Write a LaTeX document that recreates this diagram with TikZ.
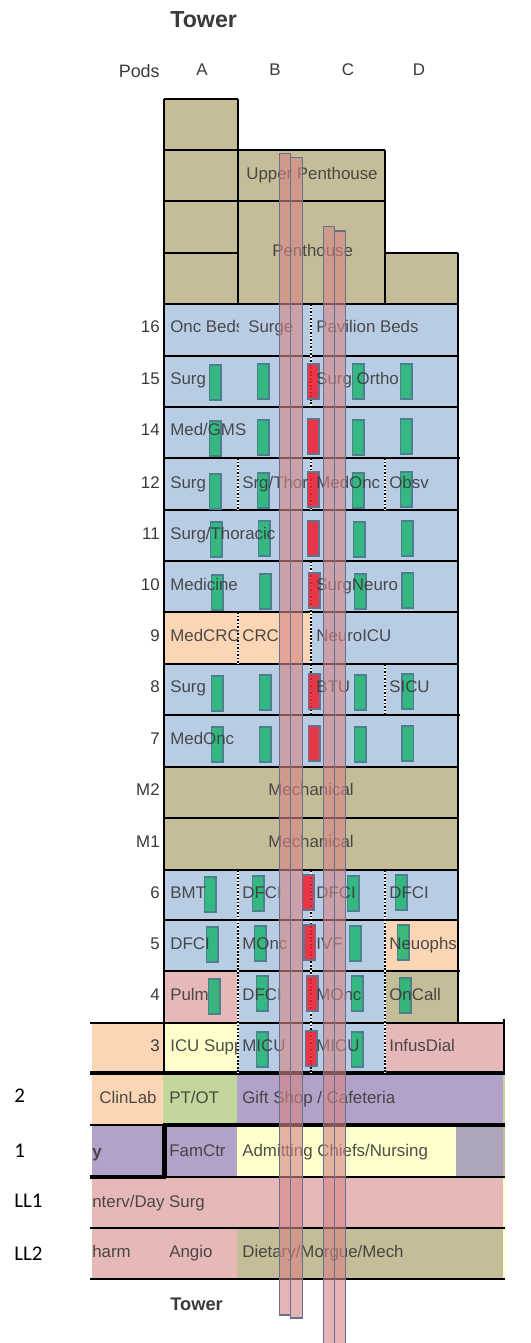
\documentclass[tikz,border=0pt]{standalone}
\usepackage{fontspec}
\setmainfont{Liberation Sans}
\newfontfamily\floorfont{Carlito}
\definecolor{plantan}{HTML}{C4BD97}
\definecolor{bedblue}{HTML}{B8CCE4}
\definecolor{peach}{HTML}{FCD5B5}
\definecolor{rose}{HTML}{E6B9B8}
\definecolor{paleyellow}{HTML}{FFFFCC}
\definecolor{lilac}{HTML}{B2A2C7}
\definecolor{sage}{HTML}{C3D69B}
\definecolor{greyviolet}{HTML}{AFA5BA}
\definecolor{labelgrey}{HTML}{3A3A3A}
\definecolor{shaftfill}{HTML}{D68686}
\definecolor{shaftline}{HTML}{66708F}
\definecolor{stackline}{HTML}{4A8090}
\definecolor{stairgreen}{HTML}{22B573}
\definecolor{stairred}{HTML}{EE2233}
\tikzset{
	lbl/.style={anchor=base west,inner sep=0pt,text=labelgrey,text opacity=0.9,font=\fontsize{9.6}{11}\selectfont},
	flr/.style={anchor=base east,inner sep=0pt,text=labelgrey,font=\fontsize{9.6}{11}\selectfont},
	pod/.style={anchor=base,inner sep=0pt,text=labelgrey,font=\fontsize{9.6}{11}\selectfont},
	lvl/.style={anchor=base west,inner sep=0pt,font=\floorfont\fontsize{11.9}{13}\selectfont},
	wall/.style={draw=black,line width=1.2pt},
	thin wall/.style={draw=black,line width=0.9pt},
	heavy wall/.style={draw=black,line width=2.6pt},
	divider/.style={draw=black,line width=0.9pt,dash pattern=on 1pt off 1pt,preaction={draw=white,solid,line width=0.9pt}},
	shaft/.style={draw=shaftline,line width=0.6pt,fill=shaftfill,fill opacity=0.62},
	greenstack/.style={draw=stackline,line width=0.6pt,fill=stairgreen,fill opacity=0.88},
	redstack/.style={draw=shaftline,line width=0.6pt,fill=stairred,fill opacity=0.88}
}
\begin{document}
\begin{tikzpicture}[x=0.02cm,y=-0.02cm]
	\useasboundingbox (0,0) rectangle (531,1343);

	% Roof blocks
	\fill[plantan] (164,99) rectangle (238,304);
	\fill[plantan] (238,150) rectangle (385,304);
	\fill[plantan] (385,253) rectangle (458,304);

	% Floors
	\fill[bedblue] (164,304) rectangle (458,767);
	\fill[peach] (164,612) rectangle (311,664);
	\fill[plantan] (164,767) rectangle (458,870);
	\fill[bedblue] (164,870) rectangle (458,1023);
	\fill[peach] (385,920) rectangle (458,971);
	\fill[rose] (164,971) rectangle (238,1023);
	\fill[plantan] (385,971) rectangle (458,1023);

	% Podium floors
	\fill[peach] (92,1023) rectangle (164,1073);
	\fill[paleyellow] (164,1023) rectangle (238,1073);
	\fill[bedblue] (238,1023) rectangle (385,1073);
	\fill[rose] (385,1023) rectangle (503,1073);
	\fill[peach] (92,1073) rectangle (163,1125);
	\fill[sage] (163,1073) rectangle (237,1125);
	\fill[lilac] (237,1073) rectangle (503,1125);
	\fill[sage] (503,1073) rectangle (504.5,1125);
	\fill[lilac] (92,1125) rectangle (237,1177);
	\fill[paleyellow] (237,1125) rectangle (456,1177);
	\fill[greyviolet] (456,1125) rectangle (503,1177);
	\fill[plantan] (503,1125) rectangle (504.5,1177);
	\fill[rose] (92,1177) rectangle (503,1228);
	\fill[rose] (92,1228) rectangle (237,1279);
	\fill[plantan] (237,1228) rectangle (503,1279);
	\fill[paleyellow] (503,1177) rectangle (504.5,1279);

	% Walls
	\foreach \ya/\xa/\xb in {99/164/238,150/164/385,253/164/238,253/385/458,304/164/458,356/164/458,407/164/458,458/164/460,510/164/458,561/164/458,612/164/458,664/164/458,715/164/460,767/164/458,818/164/458,870/164/458,920/164/458,971/164/460}
		\draw[wall] (\xa,\ya) -- (\xb,\ya);
	\draw[thin wall] (164,201) -- (385,201);
	\draw[wall] (164,99) -- (164,1073);
	\draw[wall] (458,253) -- (458,1023);
	\draw[wall] (238,99) -- (238,304);
	\draw[wall] (385,150) -- (385,304);
	\draw[wall] (90,1023) -- (504,1023);
	\draw[wall] (504,1019) -- (504,1075);
	\draw[heavy wall] (90,1073) -- (504.5,1073);
	\draw[thin wall] (90,1125) -- (164,1125);
	\draw[heavy wall] (163,1125) -- (504.5,1125);
	\draw[heavy wall] (164.5,1125) -- (164.5,1178);
	\draw[heavy wall] (90,1177) -- (166,1177);
	\draw[wall] (166,1177) -- (504.5,1177);
	\draw[wall] (90,1228) -- (504.5,1228);
	\draw[wall] (90,1279) -- (504.5,1279);

	% Dividers
	\foreach \ya/\yb in {304/407,458/510,561/664,664/715,870/1073}
		\draw[divider] (311,\ya) -- (311,\yb);
	\foreach \ya/\yb in {458/510,612/664,870/1073}
		\draw[divider] (238,\ya) -- (238,\yb);
	\foreach \ya/\yb in {458/510,664/715,870/1073}
		\draw[divider] (385,\ya) -- (385,\yb);

	% Green stacks
	\foreach \xa/\ya in {209.5/365,257.5/364,352.5/364,400.5/364,
		209.5/421,257.5/420,352.5/420,400.5/419,
		209.5/474,257.5/473,352.5/473,400.5/472,
		210.5/522,258.5/521,353.5/522,401.5/521,
		211.5/575,259.5/574,354.5/574,402/573,
		211.5/676,259.5/675,354.5/675,402/674,
		211.5/727,259.5/727,354.5/727,402/726,
		204.5/877,252.5/876,347.5/876,395.5/875,
		206.5/927,254.5/926,349.5/926,397.5/925,
		208.5/979,256.5/976,351.5/976,399.5/978,
		256.5/1032,351.5/1032}
		\draw[greenstack] (\xa,\ya) rectangle ++(11.5,35);

	% Red stacks
	\foreach \xa/\ya in {307.5/364,307.5/419,307.5/472,307.5/521,308.5/573,308.5/674,308.5/726,302.5/875,304/925,306.5/976,305.5/1031}
		\draw[redstack] (\xa,\ya) rectangle ++(11.5,35);

	% Headings
	\node[anchor=base west,inner sep=0pt,text=labelgrey,font=\bfseries\fontsize{13.2}{15}\selectfont] (towertop) at (170,27) {Tower};
	\node[anchor=base west,inner sep=0pt,text=labelgrey,font=\bfseries\fontsize{10.4}{12}\selectfont] (towerbottom) at (170,1310) {Tower};
	\node[flr,font=\fontsize{10.2}{12}\selectfont] (pods) at (160,77) {Pods};
	\foreach \x/\pname in {202/A,275/B,348/C,419/D}
		\node[pod] (pod\pname) at (\x,75) {\pname};

	% Floor numbers
	\foreach \y/\fname in {332/16,384/15,435/14,488/12,539/11,590/10,641/9,692/8,744/7,795/M2,847/M1,898/6,949/5,1000/4,1051/3}
		\node[flr] (floor\fname) at (160,\y) {\fname};
	\node[lvl] (lvltwo) at (14,1102) {2};
	\node[lvl] (lvlone) at (14,1157) {1};
	\node[lvl] (lvlLLone) at (14,1207) {LL1};
	\node[lvl] (lvlLLtwo) at (14,1260) {LL2};

	% Clipped names
	\begin{scope}
		\clip (164,304) rectangle (238,356);
		\node[lbl] (oncbeds) at (170,332) {Onc Beds};
	\end{scope}
	\begin{scope}
		\clip (164,612) rectangle (238,664);
		\node[lbl] (medcrc) at (170,641) {MedCRC};
	\end{scope}
	\begin{scope}
		\clip (164,1023) rectangle (238,1073);
		\node[lbl] (icusupp) at (170,1051) {ICU Supp};
	\end{scope}

	% Department names
	\node[lbl] (upperpent) at (246,179) {Upper Penthouse};
	\node[lbl] (pent) at (272,256) {Penthouse};
	\node[lbl] (surge) at (248,332) {Surge};
	\node[lbl] (pavilion) at (316,332) {Pavilion Beds};
	\node[lbl] (surgA) at (170,384) {Surg};
	\node[lbl] (surgortho) at (316,384) {Surg Ortho};
	\node[lbl] (medgms) at (170,435) {Med/GMS};
	\node[lbl] (surgB) at (170,488) {Surg};
	\node[lbl] (srgthor) at (242,488) {Srg/Thor};
	\node[lbl] (medonctop) at (316,488) {MedOnc};
	\node[lbl] (obsv) at (389,488) {Obsv};
	\node[lbl] (surgthor) at (170,539) {Surg/Thoracic};
	\node[lbl] (medicine) at (170,590) {Medicine};
	\node[lbl] (surgneuro) at (316,590) {SurgNeuro};
	\node[lbl] (crc) at (242,641) {CRC};
	\node[lbl] (neuroicu) at (316,641) {NeuroICU};
	\node[lbl] (surgC) at (170,692) {Surg};
	\node[lbl] (btu) at (316,692) {BTU};
	\node[lbl] (sicu) at (389,692) {SICU};
	\node[lbl] (medonc) at (170,744) {MedOnc};
	\node[lbl] (mechtwo) at (268,795) {Mechanical};
	\node[lbl] (mechone) at (268,847) {Mechanical};
	\node[lbl] (bmt) at (170,898) {BMT};
	\node[lbl] (dfciB) at (242,898) {DFCI};
	\node[lbl] (dfciC) at (316,898) {DFCI};
	\node[lbl] (dfciD) at (389,898) {DFCI};
	\node[lbl] (dfciA) at (170,949) {DFCI};
	\node[lbl] (moncB) at (242,949) {MOnc};
	\node[lbl] (ivf) at (316,949) {IVF};
	\node[lbl] (neuophs) at (389,949) {Neuophs};
	\node[lbl] (pulm) at (170,1000) {Pulm};
	\node[lbl] (dfciE) at (242,1000) {DFCI};
	\node[lbl] (moncC) at (316,1000) {MOnc};
	\node[lbl] (oncall) at (389,1000) {OnCall};
	\node[lbl] (micuB) at (242,1051) {MICU};
	\node[lbl] (micuC) at (316,1051) {MICU};
	\node[lbl] (infus) at (389,1051) {InfusDial};
	\node[lbl] (clinlab) at (99,1103) {ClinLab};
	\node[lbl] (ptot) at (169,1103) {PT/OT};
	\node[lbl] (gift) at (242,1103) {Gift Shop / Cafeteria};
	\node[lbl,font=\bfseries\fontsize{9.6}{11}\selectfont] (pharmy) at (92,1157) {y};
	\node[lbl] (famctr) at (169,1156) {FamCtr};
	\node[lbl] (admit) at (242,1156) {Admitting Chiefs/Nursing};
	\node[lbl] (interv) at (92,1207) {nterv/Day Surg};
	\node[lbl] (harm) at (92,1257) {harm};
	\node[lbl] (angio) at (169,1257) {Angio};
	\node[lbl] (dietary) at (242,1257) {Dietary/Morgue/Mech};

	% Shafts
	\draw[shaft] (279.3,153.3) rectangle (290.7,1315);
	\draw[shaft] (290.7,157.3) rectangle (302.7,1318);
	\draw[shaft] (323.3,226.3) rectangle (334.7,1350);
	\draw[shaft] (334.7,231) rectangle (345.7,1350);
\end{tikzpicture}
\end{document}
